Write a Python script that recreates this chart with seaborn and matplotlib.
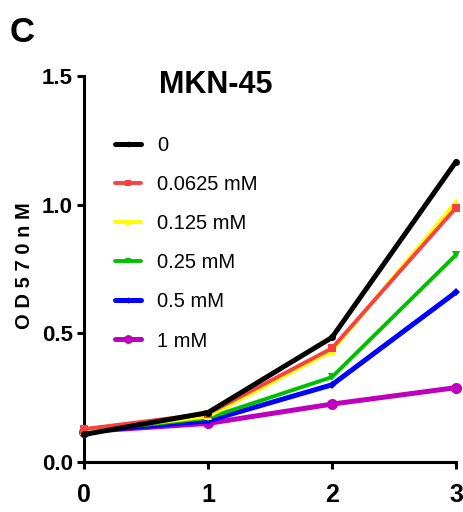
import matplotlib
matplotlib.use("Agg")
import matplotlib.pyplot as plt
from matplotlib import font_manager
from matplotlib.lines import Line2D
import seaborn as sns
import pandas as pd

# ---- data ----
days = [0, 1, 2, 3]
series_labels = ["0", "0.0625 mM", "0.125 mM", "0.25 mM", "0.5 mM", "1 mM"]
od_0 = [0.107, 0.192, 0.484, 1.167]
od_00625 = [0.128, 0.188, 0.442, 0.988]
od_0125 = [0.120, 0.177, 0.432, 1.010]
od_025 = [0.118, 0.171, 0.330, 0.805]
od_05 = [0.118, 0.160, 0.300, 0.660]
od_1 = [0.118, 0.150, 0.225, 0.289]
y_ticks = [0.0, 0.5, 1.0, 1.5]
y_ticklabels = ["0.0", "0.5", "1.0", "1.5"]
x_ticklabels = ["0", "1", "2", "3"]
title = "MKN-45"
panel = "C"
ylabel = "O D 5 7 0 n M"

all_values = [od_0, od_00625, od_0125, od_025, od_05, od_1]
colors = ["#000000", "#F84242", "#FFFF00", "#00BE00", "#0000FF", "#BE00BE"]
markers = ["o", "s", "^", "v", "D", "o"]
msizes = [5, 6, 6, 6, 4, 8]
lwidths = [3.6, 2.8, 2.8, 2.8, 3.6, 3.6]

avail = {f.name for f in font_manager.fontManager.ttflist}
narrow = "Liberation Sans Narrow" if "Liberation Sans Narrow" in avail else "Liberation Sans"

sns.set_theme(style="ticks")
plt.rcParams["font.family"] = ["Liberation Sans", "DejaVu Sans"]
plt.rcParams["text.color"] = "black"

fig = plt.figure(figsize=(4.63, 5.12), dpi=100)
ax = fig.add_axes([84 / 463, 1 - 462 / 512, (456 - 84) / 463, (462 - 76) / 512])

df = pd.DataFrame({
    "day": days * len(series_labels),
    "od": [v for vals in all_values for v in vals],
    "conc": [lab for lab in series_labels for _ in days],
})

handles = []
order = list(range(len(series_labels)))[::-1]  # draw black on top
for i in order:
    sub = df[df["conc"] == series_labels[i]]
    sns.lineplot(data=sub, x="day", y="od", color=colors[i], marker=markers[i],
                 markersize=msizes[i], markeredgewidth=0, linewidth=lwidths[i],
                 ax=ax, legend=False, clip_on=False, zorder=10 - i)
for i in range(len(series_labels)):
    handles.append(Line2D([0], [0], color=colors[i], marker=markers[i], markersize=msizes[i] * 0.8,
                          markeredgewidth=0, linewidth=lwidths[i], label=series_labels[i]))

ax.set_xlim(0, 3)
ax.set_ylim(0, 1.5)
ax.set_xticks(days)
ax.set_xticklabels(x_ticklabels, fontweight="bold", fontsize=18, family=narrow, color="black")
ax.set_yticks(y_ticks)
ax.set_yticklabels(y_ticklabels, fontweight="bold", fontsize=16, family=narrow, color="black")
ax.set_xlabel("")
ax.set_ylabel("")
sns.despine(ax=ax)
for s in ["left", "bottom"]:
    ax.spines[s].set_linewidth(2.2)
    ax.spines[s].set_color("black")
ax.tick_params(axis="both", width=2.2, length=5, color="black", labelcolor="black")
ax.tick_params(axis="x", pad=10)
ax.tick_params(axis="y", pad=3)
ax.set_facecolor("white")

leg = ax.legend(handles=handles, loc="upper left", bbox_to_anchor=(0.083, 0.845),
                frameon=False, borderpad=0, borderaxespad=0, handlelength=1.3,
                handletextpad=0.8, labelspacing=1.0,
                prop={"family": narrow, "size": 14.5})
for t in leg.get_texts():
    t.set_color("black")

fig.text(216 / 463, 1 - 93 / 512, title, ha="center", va="baseline",
         fontsize=22, fontweight="bold", color="black")
fig.text(10 / 463, 1 - 42 / 512, panel, ha="left", va="baseline",
         fontsize=25, fontweight="bold", color="black")
fig.text(25 / 463, 1 - 266 / 512, ylabel, ha="center", va="center", rotation=90,
         fontsize=14.5, fontweight="bold", color="black")

fig.savefig("out.png", dpi=100, facecolor="white")
